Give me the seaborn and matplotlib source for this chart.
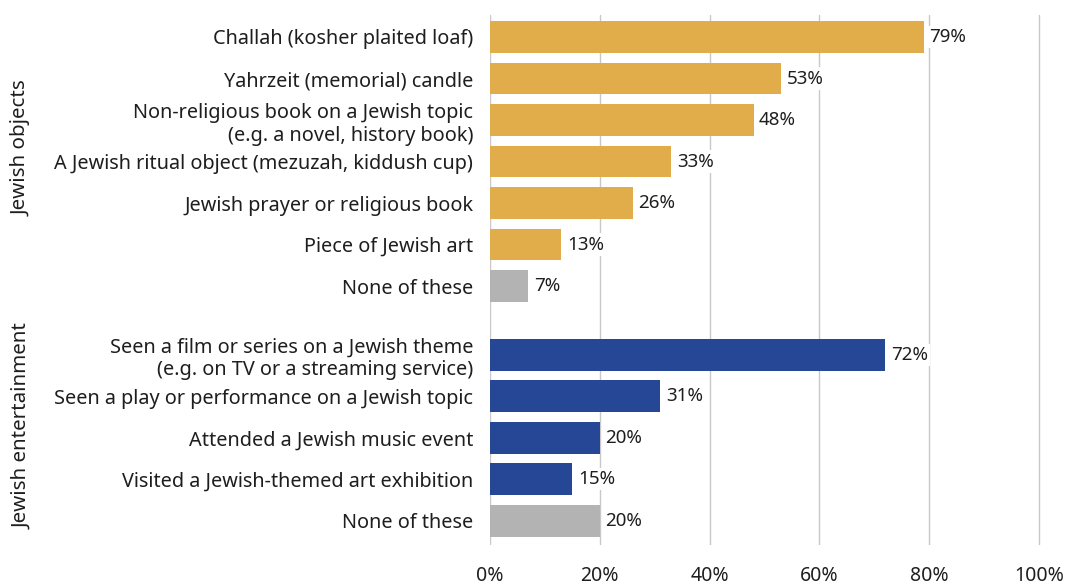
import matplotlib
matplotlib.use("Agg")
import matplotlib.pyplot as plt
import matplotlib.transforms as mtransforms
import seaborn as sns
import pandas as pd
import numpy as np

# Survey items, grouped
object_labels = [
    "Challah (kosher plaited loaf)",
    "Yahrzeit (memorial) candle",
    "Non-religious book on a Jewish topic\n(e.g. a novel, history book)",
    "A Jewish ritual object (mezuzah, kiddush cup)",
    "Jewish prayer or religious book",
    "Piece of Jewish art",
    "None of these",
]
object_values = [79, 53, 48, 33, 26, 13, 7]

entertainment_labels = [
    "Seen a film or series on a Jewish theme\n(e.g. on TV or a streaming service)",
    "Seen a play or performance on a Jewish topic",
    "Attended a Jewish music event",
    "Visited a Jewish-themed art exhibition",
    "None of these",
]
entertainment_values = [72, 31, 20, 15, 20]

group_names = ["Jewish objects", "Jewish entertainment"]
x_ticks = [0, 20, 40, 60, 80, 100]

GOLD = "#E1AD4A"
BLUE = "#264796"
GREY = "#B3B3B3"
TEXT = "#1E1E1E"
GROUP_GAP = 0.66

# Long-form table with a vertical slot for every bar
rows = []
for i, (lab, val) in enumerate(zip(object_labels, object_values)):
    kind = "none" if lab == "None of these" else "objects"
    rows.append(dict(label=lab, value=val, kind=kind, pos=float(i)))
offset = len(object_labels) + GROUP_GAP
for i, (lab, val) in enumerate(zip(entertainment_labels, entertainment_values)):
    kind = "none" if lab == "None of these" else "entertainment"
    rows.append(dict(label=lab, value=val, kind=kind, pos=offset + i))
df = pd.DataFrame(rows)

sns.set_theme(style="white")
plt.rcParams["font.family"] = ["Noto Sans", "DejaVu Sans"]

fig = plt.figure(figsize=(10.67, 5.84), dpi=100)
ax = fig.add_axes([490 / 1067, 1 - 545 / 584, 551 / 1067, 530 / 584])

sns.barplot(
    data=df, x="value", y="pos", hue="kind", orient="h",
    native_scale=True, dodge=False, width=0.77, legend=False,
    palette={"objects": GOLD, "entertainment": BLUE, "none": GREY},
    hue_order=["objects", "entertainment", "none"],
    saturation=1, linewidth=0, ax=ax, zorder=3,
)

ax.set_xlim(0, 100.35)
ax.set_ylim(df["pos"].max() + 0.58, -0.53)
ax.set_xticks(x_ticks)
ax.set_xticklabels([f"{t}%" for t in x_ticks], fontsize=14, color=TEXT)
ax.set_yticks(df["pos"])
ax.set_yticklabels(df["label"], fontsize=14.3, color=TEXT, linespacing=1.2)
ax.tick_params(axis="y", length=0, pad=12)
ax.tick_params(axis="x", length=0, pad=15)
ax.set_xlabel("")
ax.set_ylabel("")
ax.grid(axis="x", color="#C8C8C8", linewidth=1.0, zorder=0)
ax.set_axisbelow(True)
for s in ax.spines.values():
    s.set_visible(False)

for cont in ax.containers:
    ax.bar_label(
        cont, fmt="%d%%", padding=4, fontsize=13.5, color=TEXT,
        bbox=dict(facecolor="white", edgecolor="none", pad=1.5), zorder=5,
    )

# Group captions on the far left
trans = mtransforms.blended_transform_factory(fig.transFigure, ax.transData)
obj_center = (len(object_labels) - 1) / 2 - 0.33
ent_center = offset + (len(entertainment_labels) - 1) / 2 - 0.29
for name, yc in zip(group_names, [obj_center, ent_center]):
    ax.text(22 / 1067, yc, name, transform=trans, rotation=90,
            ha="center", va="center", fontsize=14.8, color=TEXT)

fig.savefig("out.png", dpi=100)
